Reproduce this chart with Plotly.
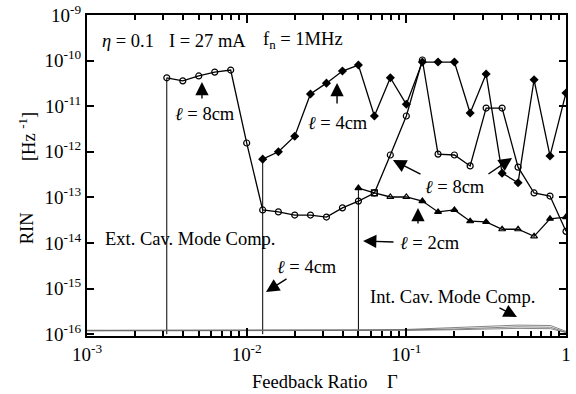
import plotly.graph_objects as go

# Feedback ratio grid (0.1-decade steps from ~3.2e-3 to 1)
gamma = [0.00316, 0.00398, 0.00501, 0.00631, 0.00794, 0.0100, 0.0126, 0.0158,
         0.0200, 0.0251, 0.0316, 0.0398, 0.0501, 0.0631, 0.0794, 0.100,
         0.126, 0.158, 0.200, 0.251, 0.316, 0.398, 0.501, 0.631, 0.794, 1.00]

# RIN [Hz^-1], external cavity length 8 cm (starts at gamma[0])
rin_8cm = [4.2e-11, 3.6e-11, 4.6e-11, 5.6e-11, 6.2e-11, 1.56e-12, 5.3e-14, 4.8e-14,
           4.1e-14, 4.1e-14, 3.7e-14, 5.9e-14, 8.3e-14, 1.25e-13, 8.5e-13, 6.1e-12,
           1.03e-10, 8.9e-13, 8.5e-13, 4.9e-13, 9.1e-12, 9.1e-12, 4.6e-13, 1.25e-13,
           1.07e-13, 1.8e-14]

# external cavity length 4 cm (starts at gamma[6])
rin_4cm = [6.9e-13, 1.0e-12, 2.2e-12, 1.85e-11, 3.2e-11, 5.9e-11, 8.0e-11, 6.1e-12,
           4.2e-11, 1.1e-11, 9.3e-11, 9.3e-11, 9.3e-11, 7.1e-12, 5.1e-11, 3.4e-13,
           2.1e-13, 3.8e-11, 8.1e-13, 1.95e-11]

# external cavity length 2 cm (starts at gamma[12])
rin_2cm = [1.6e-13, 1.25e-13, 1.02e-13, 1.02e-13, 8.3e-14, 4.8e-14, 5.3e-14, 3.0e-14,
           2.9e-14, 2.0e-14, 2.0e-14, 1.4e-14, 3.4e-14, 3.7e-14]

# internal cavity mode competition curves (near the noise floor)
gamma_int = [0.001, 0.01, 0.05, 0.1, 0.2, 0.3, 0.5, 0.8, 1.0]
rin_int_a = [1.22e-16, 1.22e-16, 1.24e-16, 1.27e-16, 1.38e-16, 1.50e-16, 1.58e-16, 1.55e-16, 1.15e-16]
rin_int_b = [1.20e-16, 1.20e-16, 1.22e-16, 1.24e-16, 1.30e-16, 1.38e-16, 1.45e-16, 1.42e-16, 1.10e-16]
rin_int_c = [1.18e-16, 1.18e-16, 1.19e-16, 1.21e-16, 1.25e-16, 1.30e-16, 1.34e-16, 1.32e-16, 1.08e-16]

rin_floor = 1e-16

x_ticks = [1e-3, 1e-2, 1e-1, 1]
x_labels = ["10<sup>-3</sup>", "10<sup>-2</sup>", "10<sup>-1</sup>", "1"]
y_ticks = [1e-16, 1e-15, 1e-14, 1e-13, 1e-12, 1e-11, 1e-10, 1e-9]
y_labels = ["10<sup>-16</sup>", "10<sup>-15</sup>", "10<sup>-14</sup>", "10<sup>-13</sup>",
            "10<sup>-12</sup>", "10<sup>-11</sup>", "10<sup>-10</sup>", "10<sup>-9</sup>"]

FONT = "Liberation Serif"
BLACK = "black"

g4 = gamma[6:]
g2 = gamma[12:]

fig = go.Figure()

# vertical onset lines from the floor to the first point of each series
for g0, r0 in [(gamma[0], rin_8cm[0]), (g4[0], rin_4cm[0]), (g2[0], rin_2cm[0])]:
    fig.add_trace(go.Scatter(x=[g0, g0], y=[rin_floor, r0], mode="lines",
                             line=dict(color=BLACK, width=1), showlegend=False,
                             hoverinfo="skip"))

for yy in (rin_int_a, rin_int_b, rin_int_c):
    fig.add_trace(go.Scatter(x=gamma_int, y=yy, mode="lines",
                             line=dict(color="#666", width=0.8), showlegend=False))

fig.add_trace(go.Scatter(
    x=gamma, y=rin_8cm, mode="lines+markers", name="8cm",
    line=dict(color=BLACK, width=1.3),
    marker=dict(symbol="circle-open", size=6, color=BLACK, line=dict(width=1.2))))

fig.add_trace(go.Scatter(
    x=g4, y=rin_4cm, mode="lines+markers", name="4cm",
    line=dict(color=BLACK, width=1.3),
    marker=dict(symbol="diamond", size=7, color=BLACK)))

tri_symbols = ["triangle-up", "square-open", "triangle-up-open", "triangle-up-open",
               "triangle-up", "triangle-up", "triangle-up", "triangle-up", "triangle-up",
               "triangle-up-open", "triangle-up-open", "triangle-up-open", "triangle-up",
               "triangle-up"]
fig.add_trace(go.Scatter(
    x=g2, y=rin_2cm, mode="lines+markers", name="2cm",
    line=dict(color=BLACK, width=1.3),
    marker=dict(symbol=tri_symbols, size=6, color=BLACK, line=dict(width=1.2, color=BLACK))))

# invisible trace so the top tick axis is drawn
fig.add_trace(go.Scatter(x=[gamma[0]], y=[rin_floor], xaxis="x2", mode="markers",
                         marker=dict(opacity=0), showlegend=False, hoverinfo="skip"))

tf = dict(family=FONT, size=18.5, color=BLACK)
tick_font = dict(family=FONT, size=19, color=BLACK)

texts = [
    ("<i>η</i> = 0.1", -2.743, -9.57),
    ("I = 27 mA", -2.248, -9.57),
    ("f<sub>n</sub> = 1MHz", -1.647, -9.57),
    ("<i>ℓ</i> = 8cm", -2.261, -11.17),
    ("<i>ℓ</i> = 4cm", -1.428, -11.37),
    ("<i>ℓ</i> = 8cm", -0.695, -12.77),
    ("Ext. Cav. Mode Comp.", -2.355, -13.91),
    ("<i>ℓ</i> = 4cm", -1.622, -14.53),
    ("<i>ℓ</i> = 2cm", -0.852, -14.0),
    ("Int. Cav. Mode Comp.", -0.708, -15.18),
]
for t, xl, yl in texts:
    fig.add_annotation(text=t, x=xl, y=yl, xref="x", yref="y", showarrow=False,
                       font=tf, xanchor="center", yanchor="middle")

arrows = [
    (-2.280, -10.469, -2.280, -10.864),
    (-1.434, -10.491, -1.434, -10.974),
    (-1.084, -12.180, -0.902, -12.509),
    (-0.338, -12.136, -0.495, -12.509),
    (-1.879, -15.075, -1.741, -14.768),
    (-1.271, -13.956, -1.071, -13.978),
    (-0.927, -13.232, -0.927, -13.605),
    (-0.307, -15.623, -0.426, -15.404),
]
for hx, hy, tx, ty in arrows:
    fig.add_annotation(x=hx, y=hy, ax=tx, ay=ty, xref="x", yref="y", axref="x", ayref="y",
                       text="", showarrow=True, arrowhead=2, arrowsize=1.9,
                       arrowwidth=1.4, arrowcolor=BLACK)

# axis titles
axis_titles = [
    ("RIN", -0.125, 0.336, -90),
    ("[Hz <sup>-1</sup>]", -0.125, 0.62, -90),
    ("Feedback Ratio", 0.466, -0.143, 0),
    ("Γ", 0.637, -0.143, 0),
]
for t, xp, yp, ang in axis_titles:
    fig.add_annotation(text=t, x=xp, y=yp, xref="paper", yref="paper",
                       xanchor="center", yanchor="middle",
                       showarrow=False, textangle=ang, font=tf)

x_minor = [m * 10 ** e for e in (-3, -2, -1) for m in range(2, 10)]

xaxis_style = dict(type="log", range=[-3, 0], tickvals=x_ticks, automargin=False,
                   showline=True, linewidth=2, linecolor=BLACK,
                   ticks="inside", ticklen=8, tickwidth=2, tickcolor=BLACK,
                   minor=dict(tickvals=x_minor, ticks="inside", ticklen=5, tickwidth=1.5,
                              tickcolor=BLACK, showgrid=False),
                   showgrid=False, zeroline=False)

fig.update_layout(
    xaxis=dict(**xaxis_style, ticktext=x_labels, tickfont=tick_font),
    xaxis2=dict(**xaxis_style, overlaying="x", side="top", matches="x",
                showticklabels=False),
    yaxis=dict(type="log", range=[-16.04, -9], tickvals=y_ticks, ticktext=y_labels,
               automargin=False,
               showline=True, linewidth=2, linecolor=BLACK, mirror="ticks",
               ticks="inside", ticklen=7, tickwidth=2, tickcolor=BLACK,
               showgrid=False, zeroline=False, tickfont=tick_font),
    width=576, height=394, margin=dict(l=87, r=10, t=15, b=58, autoexpand=False),
    paper_bgcolor="white", plot_bgcolor="white", showlegend=False, font=tf)

fig.write_html("out.html")
